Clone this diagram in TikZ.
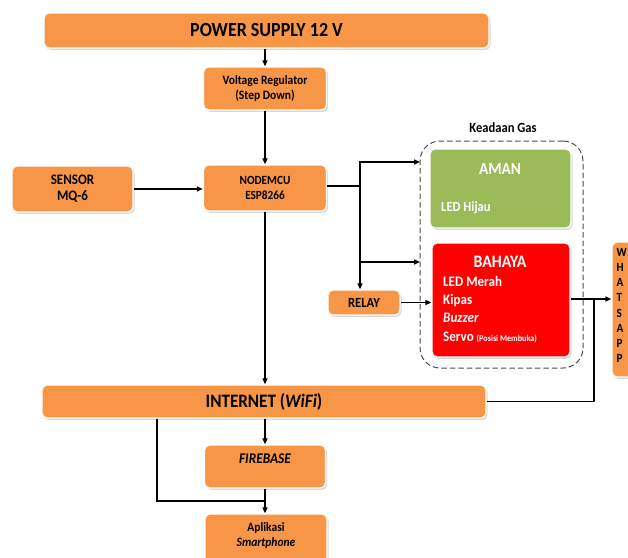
\documentclass[tikz,border=0pt]{standalone}
\usepackage{fontspec}
\setmainfont[FakeStretch=0.9]{Carlito}
\usetikzlibrary{arrows.meta,shadows}
\definecolor{orng}{HTML}{F79646}
\definecolor{grn}{HTML}{9BBB59}
\definecolor{rd}{HTML}{FF0000}
\newcommand{\fs}[2]{\fontsize{#1}{#2}\selectfont}
\begin{document}
\begin{tikzpicture}[x=1pt,y=-1pt,
  box/.style={rounded corners=5pt, fill=orng, draw=white, line width=1.3pt,
    drop shadow={shadow xshift=1.5pt,shadow yshift=-1.8pt,opacity=0.45,fill=black!35},
    font=\bfseries, text=black, inner sep=0pt, align=center},
  txt/.style={inner sep=0pt, font=\bfseries, align=center},
  arr/.style={line width=1.4pt, -{Triangle[length=6pt,width=5pt]}},
  ln/.style={line width=1.4pt}]
\useasboundingbox (0,0) rectangle (628,557);

% boxes
\node[box, minimum width=445pt, minimum height=35pt, font=\bfseries\fs{20}{21}] (ps) at (266.5,30.5) {POWER SUPPLY 12 V};
\node[box, minimum width=123pt, minimum height=43pt, font=\bfseries\fs{12.8}{14.5}] (vr) at (265,88.5) {Voltage Regulator\\(Step Down)};
\node[box, minimum width=121pt, minimum height=46pt, font=\bfseries\fs{14.5}{16}] (sensor) at (72.5,189) {SENSOR\\MQ-6};
\node[box, minimum width=123pt, minimum height=46pt, font=\bfseries\fs{12.5}{15}] (node) at (265,188) {NODEMCU\\ESP8266};
\node[box, minimum width=72pt, minimum height=25pt, font=\bfseries\fs{14}{15}] (relay) at (364,302.5) {RELAY};
\node[box, minimum width=444pt, minimum height=33pt, font=\bfseries\fs{19}{20}] (internet) at (264,401.5) {INTERNET (\textit{WiFi})};
\node[box, minimum width=121pt, minimum height=43pt] (firebase) at (265,466.5) {};
\node[txt, font=\bfseries\itshape\fs{14.8}{15}] (fbtext) at (265,459) {FIREBASE};
\node[box, minimum width=122pt, minimum height=56pt] (apl) at (266,542) {};
\node[txt, font=\bfseries\fs{12.8}{15}] (apltext) at (266,535.5) {Aplikasi\\\textit{Smartphone}};
\node[box, minimum width=50pt, minimum height=135pt] (wa) at (637,309.5) {};
\node[txt, font=\bfseries\fs{12.5}{15.2}, align=left, anchor=north west] (watext) at (616.5,248) {W\\H\\A\\T\\S\\A\\P\\P};

% gas state group
\node[draw=black!70, dash pattern=on 5.5pt off 3pt, line width=1pt, rounded corners=20pt, minimum width=163pt, minimum height=227pt, inner sep=0pt] (gas) at (501.5,254.5) {};
\node[txt, font=\bfseries\fs{14}{15}] (gaslbl) at (503,128) {Keadaan Gas};
\node[box, fill=grn, minimum width=141pt, minimum height=79pt] (aman) at (500.5,188.5) {};
\node[txt, text=white, font=\bfseries\fs{17}{18}] (amant) at (500,169) {AMAN};
\node[txt, text=white, font=\bfseries\fs{14}{15}, anchor=west] (amanl) at (441,208) {LED Hijau};
\node[box, fill=rd, minimum width=138pt, minimum height=114pt] (bahaya) at (501,300) {};
\node[txt, text=white, font=\bfseries\fs{17.5}{18}] (bahayat) at (500,262) {BAHAYA};
\node[txt, text=white, font=\bfseries\fs{14.5}{18.3}, anchor=north west, align=left] (bahayal) at (443,276)
  {LED Merah\\Kipas\\\textit{Buzzer}\\Servo {\fs{9}{10}(Posisi Membuka)}};

% connectors
\draw[arr] (ps.south -| vr.north) -- (vr.north);
\draw[arr] (vr.south) -- (node.north);
\draw[arr] (sensor.east) -- (sensor.east -| node.west);
\coordinate (j1) at (360,186);
\coordinate (a1) at (420,162);
\coordinate (a2) at (420,262);
\draw[ln] (node.east |- j1) -- (j1);
\draw[arr] (j1) |- (a1);
\draw[arr] (j1) |- (a2);
\draw[arr] (a2 -| j1) -- (relay.north -| j1);
\draw[arr] (relay.east) -- (relay.east -| bahaya.west);
\coordinate (j2) at (594,299);
\draw[arr] (bahaya.east |- j2) -- (wa.west |- j2);
\draw[ln] (internet.east) -| (j2);
\draw[arr] (node.south) -- (internet.north -| node.south);
\draw[arr] (internet.south -| firebase.north) -- (firebase.north);
\coordinate (j3) at (157,501);
\draw[ln] (internet.south -| j3) -- (j3) -- (j3 -| firebase.south);
\draw[arr] (firebase.south) -- (apl.north -| firebase.south);
\end{tikzpicture}
\end{document}
